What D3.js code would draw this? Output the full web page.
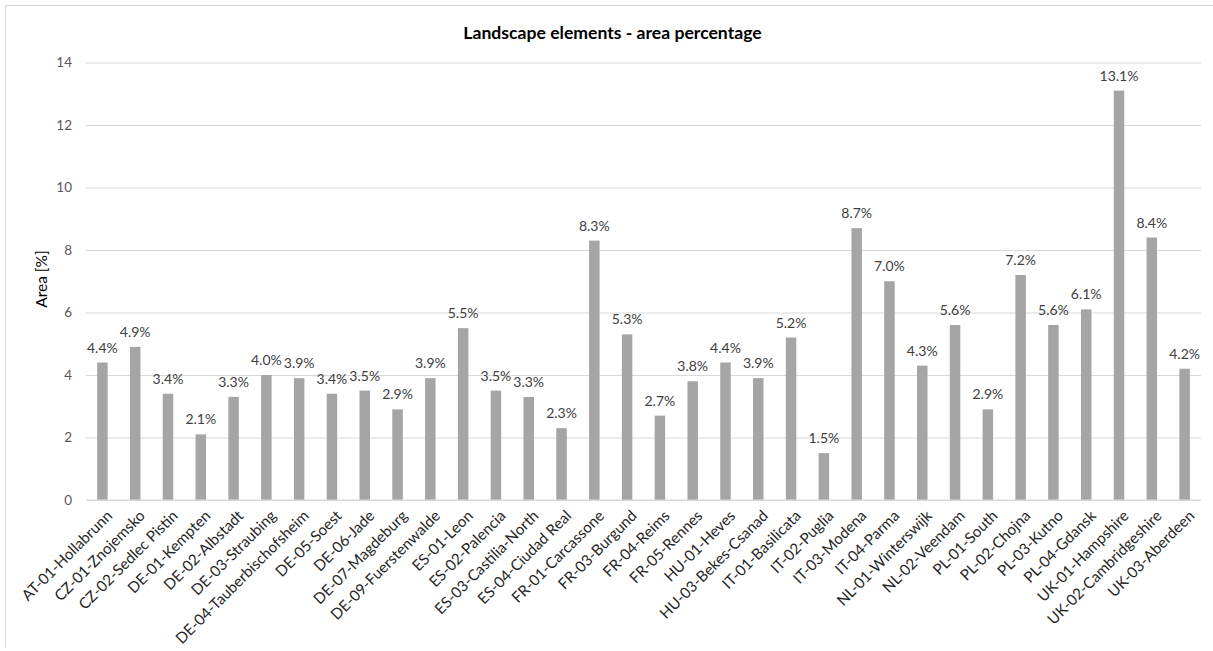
<!DOCTYPE html>
<html>
<head>
<meta charset="utf-8">
<script src="https://cdn.jsdelivr.net/npm/d3@7"></script>
<style>
  html, body { margin: 0; padding: 0; background: #fff; }
  svg { display: block; font-family: Lato, "Open Sans", sans-serif; }
</style>
</head>
<body>
<svg id="chart" width="1213" height="651"></svg>
<script>
// Study sites and their share of landscape elements (% of area)
const sites = [
  "AT-01-Hollabrunn", "CZ-01-Znojemsko", "CZ-02-Sedlec Pistin", "DE-01-Kempten",
  "DE-02-Albstadt", "DE-03-Straubing", "DE-04-Tauberbischofsheim", "DE-05-Soest",
  "DE-06-Jade", "DE-07-Magdeburg", "DE-09-Fuerstenwalde", "ES-01-Leon",
  "ES-02-Palencia", "ES-03-Castilia-North", "ES-04-Ciudad Real", "FR-01-Carcassone",
  "FR-03-Burgund", "FR-04-Reims", "FR-05-Rennes", "HU-01-Heves",
  "HU-03-Bekes-Csanad", "IT-01-Basilicata", "IT-02-Puglia", "IT-03-Modena",
  "IT-04-Parma", "NL-01-Winterswijk", "NL-02-Veendam", "PL-01-South",
  "PL-02-Chojna", "PL-03-Kutno", "PL-04-Gdansk", "UK-01-Hampshire",
  "UK-02-Cambridgeshire", "UK-03-Aberdeen"
];
const areaPct = [
  4.4, 4.9, 3.4, 2.1,
  3.3, 4.0, 3.9, 3.4,
  3.5, 2.9, 3.9, 5.5,
  3.5, 3.3, 2.3, 8.3,
  5.3, 2.7, 3.8, 4.4,
  3.9, 5.2, 1.5, 8.7,
  7.0, 4.3, 5.6, 2.9,
  7.2, 5.6, 6.1, 13.1,
  8.4, 4.2
];
const yTicks = [0, 2, 4, 6, 8, 10, 12, 14];

const title = "Landscape elements - area percentage";
const yTitle = "Area [%]";

const W = 1213, H = 651;
const plot = { left: 86, right: 1201, top: 62.5, bottom: 500 };

const svg = d3.select("#chart");

// chart frame (left and top edges fall inside the page)
svg.append("path")
  .attr("d", `M5.5,648 V5.5 H${W}`)
  .attr("fill", "none")
  .attr("stroke", "#d9d9d9").attr("stroke-width", 1);

const x = d3.scaleBand()
  .domain(sites)
  .range([plot.left, plot.right])
  .paddingInner(0.68)
  .paddingOuter(0.34);

const y = d3.scaleLinear()
  .domain([0, 14])
  .range([plot.bottom, plot.top]);

// horizontal gridlines + value labels
const yAxis = d3.axisLeft(y)
  .tickValues(yTicks)
  .tickSize(-(plot.right - plot.left))
  .tickPadding(14)
  .tickFormat(d3.format("d"));

const gy = svg.append("g")
  .attr("transform", `translate(${plot.left},0)`)
  .call(yAxis);
gy.select(".domain").remove();
gy.selectAll(".tick line")
  .attr("stroke", "#d9d9d9").attr("stroke-width", 1);
gy.selectAll(".tick text")
  .attr("fill", "#595959")
  .style("font-size", "13.5px")
  .style("font-family", "Lato, sans-serif");

// bars
svg.append("g").selectAll("rect")
  .data(sites)
  .join("rect")
  .attr("x", d => x(d))
  .attr("width", x.bandwidth())
  .attr("y", (d, i) => y(areaPct[i]))
  .attr("height", (d, i) => y(0) - y(areaPct[i]))
  .attr("fill", "#a5a5a5");

// baseline
svg.append("line")
  .attr("x1", plot.left).attr("x2", plot.right)
  .attr("y1", y(0)).attr("y2", y(0))
  .attr("stroke", "#d9d9d9").attr("stroke-width", 1);

// value labels above bars
svg.append("g").selectAll("text")
  .data(sites)
  .join("text")
  .attr("x", d => x(d) + x.bandwidth() / 2)
  .attr("y", (d, i) => y(areaPct[i]) - 10)
  .attr("text-anchor", "middle")
  .attr("fill", "#404040")
  .style("font-size", "14px")
  .text((d, i) => areaPct[i].toFixed(1) + "%");

// category labels, rotated
svg.append("g").selectAll("text")
  .data(sites)
  .join("text")
  .attr("transform", d => `translate(${x(d) + x.bandwidth() / 2 + 7},${plot.bottom + 13}) rotate(-45)`)
  .attr("text-anchor", "end")
  .attr("dy", "0.35em")
  .attr("fill", "#262626")
  .style("font-size", "15.2px")
  .text(d => d);

// titles
svg.append("text")
  .attr("x", 612.5)
  .attr("y", 39)
  .attr("text-anchor", "middle")
  .attr("fill", "#000")
  .style("font-size", "17.6px")
  .style("font-weight", "bold")
  .text(title);

svg.append("text")
  .attr("transform", `translate(47,279) rotate(-90)`)
  .attr("text-anchor", "middle")
  .attr("fill", "#000")
  .style("font-size", "15.5px")
  .text(yTitle);
</script>
</body>
</html>
